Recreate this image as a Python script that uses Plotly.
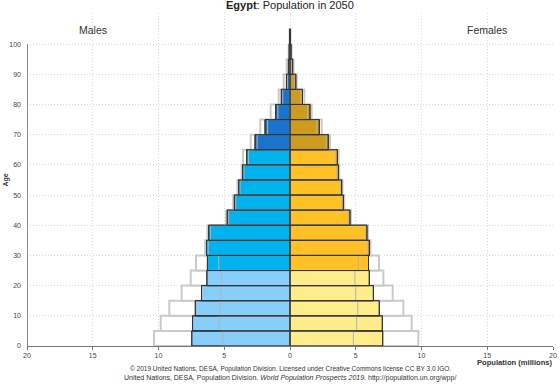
import plotly.graph_objects as go

# Age groups (lower bound of each 5-year group), 100 = 100+
age_groups = [0, 5, 10, 15, 20, 25, 30, 35, 40, 45, 50, 55, 60, 65, 70, 75, 80, 85, 90, 95, 100]

# Males, population in millions (2050): median, upper 95% PI, lower 95% PI
males_median = [7.47, 7.41, 7.20, 6.73, 6.32, 6.28, 6.35, 6.18, 4.77, 4.23, 3.90, 3.60, 3.29, 2.66, 1.90, 1.09, 0.66, 0.27, 0.12, 0.06, 0.02]
males_upper = [10.34, 9.83, 9.18, 8.24, 7.55, 7.15, 6.45, 6.28, 4.87, 4.32, 4.00, 3.68, 3.58, 2.99, 2.26, 1.47, 0.86, 0.48, 0.25, 0.10, 0.03]
males_lower = [5.12, 5.37, 5.32, 5.27, 5.20, 5.42, 6.22, 6.05, 4.66, 4.12, 3.80, 3.50, 3.15, 2.50, 1.70, 0.92, 0.55, 0.20, 0.08, 0.03, 0.01]

# Females
females_median = [7.05, 7.02, 6.79, 6.34, 6.03, 5.97, 6.03, 5.85, 4.56, 4.06, 3.93, 3.68, 3.60, 2.91, 2.23, 1.52, 0.95, 0.44, 0.20, 0.08, 0.02]
females_upper = [9.76, 9.25, 8.62, 7.81, 7.10, 6.77, 6.12, 5.93, 4.63, 4.12, 3.99, 3.75, 3.70, 3.04, 2.41, 1.65, 1.09, 0.51, 0.27, 0.12, 0.04]
females_lower = [4.82, 5.07, 5.15, 5.00, 4.94, 5.20, 5.92, 5.75, 4.46, 3.96, 3.83, 3.58, 3.45, 2.75, 2.03, 1.35, 0.82, 0.36, 0.14, 0.05, 0.01]

x_ticks = [-20, -15, -10, -5, 0, 5, 10, 15, 20]
x_tick_labels = ["20", "15", "10", "5", "0", "5", "10", "15", "20"]
y_ticks = [0, 10, 20, 30, 40, 50, 60, 70, 80, 90, 100]

FONT = "Arial, Liberation Sans, sans-serif"
mid = [a + 2.5 for a in age_groups]


def male_color(a):
    if a < 25:
        return "#87CEFA"
    if a < 65:
        return "#00B2EE"
    return "#1874CD"


def female_color(a):
    if a < 25:
        return "#FFEC8B"
    if a < 65:
        return "#FFC125"
    return "#CD9B1D"


fig = go.Figure()


def add_bars(vals, sign, fill, line_color, line_width):
    fig.add_trace(go.Bar(
        x=[sign * v for v in vals], y=mid, orientation="h", width=5,
        marker=dict(color=fill, line=dict(color=line_color, width=line_width)),
        hoverinfo="skip", showlegend=False))


# upper interval outlines
add_bars(males_upper, -1, "white", "#CACACA", 2)
add_bars(females_upper, 1, "white", "#CACACA", 2)
# median filled bars
add_bars(males_median, -1, [male_color(a) for a in age_groups], "#333333", 1)
add_bars(females_median, 1, [female_color(a) for a in age_groups], "#333333", 1)
# lower interval lines
add_bars(males_lower, -1, "rgba(0,0,0,0)", "#B4B4B4", 1)
add_bars(females_lower, 1, "rgba(0,0,0,0)", "#B4B4B4", 1)
# median borders again on top
add_bars(males_median, -1, "rgba(0,0,0,0)", "#333333", 1)
add_bars(females_median, 1, "rgba(0,0,0,0)", "#333333", 1)

# y axis line (0-100 only)
fig.add_shape(type="line", x0=-20, x1=-20, y0=0, y1=100, xref="x", yref="y",
              line=dict(color="#8C8C8C", width=2), layer="above")

ann = []
ann.append(dict(text="<b>Egypt</b>: Population in 2050", x=0.5, y=1, xref="paper", yref="paper",
                xanchor="center", yanchor="bottom", showarrow=False,
                font=dict(family=FONT, size=11, color="#222")))
ann.append(dict(text="Males", x=-15, y=104.6, xref="x", yref="y", showarrow=False,
                font=dict(family=FONT, size=10.5, color="#333")))
ann.append(dict(text="Females", x=15, y=104.6, xref="x", yref="y", showarrow=False,
                font=dict(family=FONT, size=10.5, color="#333")))
ann.append(dict(text="<b>Age</b>", x=-0.052, y=55, xref="paper", yref="y", textangle=-90,
                showarrow=False, font=dict(family=FONT, size=7, color="#333")))
ann.append(dict(text="<b>Population (millions)</b>", x=1, y=0, xref="paper", yref="paper",
                xanchor="right", yanchor="middle", yshift=-16, xshift=2, showarrow=False,
                font=dict(family=FONT, size=7.6, color="#333")))
ann.append(dict(text="© 2019 United Nations, DESA, Population Division. Licensed under Creative Commons license CC BY 3.0 IGO.",
                x=0.5, y=0, xref="paper", yref="paper", xanchor="center", yanchor="middle",
                yshift=-23, showarrow=False, font=dict(family=FONT, size=6.5, color="#333")))
ann.append(dict(text="United Nations, DESA, Population Division. <i>World Population Prospects 2019</i>. http://population.un.org/wpp/",
                x=0.5, y=0, xref="paper", yref="paper", xanchor="center", yanchor="middle",
                yshift=-32, showarrow=False, font=dict(family=FONT, size=7, color="#333")))

fig.update_layout(
    width=560, height=386,
    margin=dict(l=27, r=7, t=13, b=40),
    paper_bgcolor="white", plot_bgcolor="white",
    barmode="overlay",
    annotations=ann,
    font=dict(family=FONT, size=7, color="#444"),
    xaxis=dict(range=[-20, 20], tickvals=x_ticks, ticktext=x_tick_labels, automargin=False,
               showgrid=True, gridcolor="#DADADA", griddash="1px,2px", gridwidth=1,
               zeroline=False, showline=True, linecolor="#777", linewidth=1,
               ticks="outside", ticklen=3, tickcolor="#777",
               tickfont=dict(family=FONT, size=7, color="#444"), fixedrange=True),
    yaxis=dict(range=[0, 110.3], tickvals=y_ticks, showgrid=True, gridcolor="#DADADA",
               griddash="1px,2px", gridwidth=1, zeroline=False, showline=False, ticks="",
               automargin=False,
               tickfont=dict(family=FONT, size=7, color="#444"), ticklabelstandoff=5,
               fixedrange=True),
)

fig.write_html("out.html")
